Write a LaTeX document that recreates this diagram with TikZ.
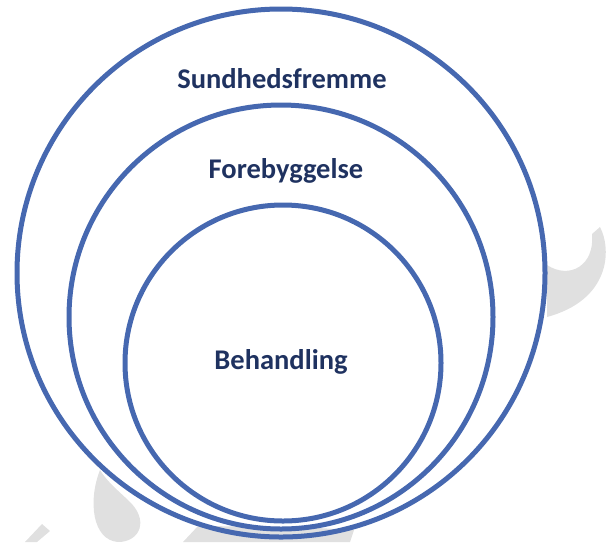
\documentclass[tikz,border=0pt]{standalone}
\usepackage{fontspec}
\setmainfont{Carlito}
\definecolor{ringblue}{RGB}{70,104,176}
\definecolor{navy}{RGB}{31,50,96}
\definecolor{markgray}{RGB}{224,224,224}
\begin{document}
\begin{tikzpicture}[x=1pt,y=-1pt,
  ring/.style={circle,draw=ringblue,line width=5pt,inner sep=0,minimum size=#1},
  lbl/.style={anchor=base,text=navy,font=\fontsize{28.5}{32}\selectfont\bfseries,inner sep=0}]
\useasboundingbox(0,0)rectangle(607,542);
\fill[markgray](100,470)..controls(88,500)and(92,540)..(118,542)..controls(140,542)and(150,520)..(128,500)..controls(115,488)and(106,480)..(100,470);
\fill[markgray](25,542)--(42,524)--(50,531)--(37,542)--cycle;
\fill[markgray](183,542)--(198,526)--(300,527)--(354,530)--(350,542)--cycle;
\fill[markgray](600,227)..controls(612,250)and(610,300)..(547,317)--(547,265)..controls(570,280)and(595,265)..(592,234)--cycle;
\node[ring=528](outer)at(281,273){};
\node[ring=424](middle)at(281,317){};
\node[ring=316](inner)at(283,363){};
\node[lbl](sund)at(282,88){Sundhedsfremme};
\node[lbl](fore)at(286,178){Forebyggelse};
\node[lbl](beh)at(281,369){Behandling};
\end{tikzpicture}
\end{document}
